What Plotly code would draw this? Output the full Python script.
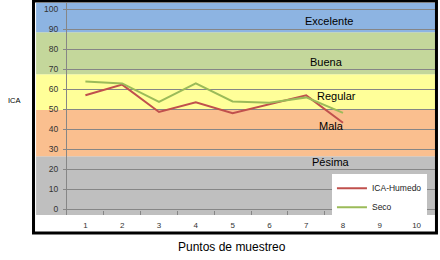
import plotly.graph_objects as go

categories = ["1", "2", "3", "4", "5", "6", "7", "8", "9", "10"]
ica_humedo = [57.1, 62.4, 48.7, 53.5, 48.1, 52.5, 57.0, 43.3]
seco = [63.9, 63.0, 53.8, 63.0, 54.0, 53.3, 56.0, 48.3]

band_names = ["Pésima", "Mala", "Regular", "Buena", "Excelente"]
band_bounds = [-2.8, 26.6, 49.7, 67.6, 88.6, 103.2]
band_colors = ["#BFBFBF", "#FABF8F", "#FFFF99", "#C4D79B", "#8DB4E2"]
band_label_y = [23.6, 41.6, 56.6, 73.6, 94.3]
band_label_x = [0.718, 0.720, 0.732, 0.706, 0.711]

y_tick_values = [0, 10, 20, 30, 40, 50, 60, 70, 80, 90, 100]

YMIN, YMAX = band_bounds[0], band_bounds[-1]


def ypaper(v):
    return (v - YMIN) / (YMAX - YMIN)


fig = go.Figure()
fig.add_trace(go.Scatter(x=categories[:len(ica_humedo)], y=ica_humedo, mode="lines",
                         name="ICA-Humedo", line=dict(color="#C0504D", width=2)))
fig.add_trace(go.Scatter(x=categories[:len(seco)], y=seco, mode="lines",
                         name="Seco", line=dict(color="#9BBB59", width=2)))

shapes = []
for i in range(len(band_names)):
    shapes.append(dict(type="rect", xref="paper", yref="paper",
                       x0=-0.084, x1=1.0,
                       y0=ypaper(band_bounds[i]), y1=ypaper(band_bounds[i + 1]),
                       fillcolor=band_colors[i], line=dict(width=0), layer="below"))
# black frame
shapes.append(dict(type="rect", xref="paper", yref="paper",
                   x0=-0.091, x1=1.004, y0=-0.085, y1=1.009,
                   line=dict(color="black", width=3), fillcolor="rgba(0,0,0,0)",
                   layer="above"))

annotations = []
for name, yv, xv in zip(band_names, band_label_y, band_label_x):
    annotations.append(dict(text=name, xref="paper", yref="y", x=xv, y=yv,
                            showarrow=False, xanchor="center", yanchor="middle",
                            font=dict(family="Liberation Sans, Arial", size=11, color="black")))
annotations.append(dict(text="ICA", xref="paper", yref="y", x=-0.143, y=54.4,
                        showarrow=False, xanchor="center", yanchor="middle",
                        font=dict(family="Liberation Sans, Arial", size=7.5, color="black")))
annotations.append(dict(text="Puntos de muestreo", xref="paper", yref="paper",
                        x=0.448, y=-0.153, showarrow=False, xanchor="center", yanchor="middle",
                        font=dict(family="Liberation Sans, Arial", size=12, color="black")))

fig.update_layout(
    width=440, height=260,
    margin=dict(l=67, r=5, t=3, b=45),
    paper_bgcolor="white", plot_bgcolor="rgba(0,0,0,0)",
    shapes=shapes, annotations=annotations,
    showlegend=True,
    legend=dict(x=0.72, y=0.195, xanchor="left", yanchor="top",
                bgcolor="white", borderwidth=0,
                font=dict(family="Liberation Sans, Arial", size=8.5, color="#222"),
                itemwidth=30, tracegroupgap=0),
    xaxis=dict(type="category", categoryorder="array", categoryarray=categories,
               range=[-0.5, 9.5], tickson="boundaries", ticks="inside", ticklen=4,
               tickcolor="#868686", showgrid=False, showline=False, zeroline=False,
               tickfont=dict(family="Liberation Sans, Arial", size=8, color="#333"),
               ticklabelstandoff=4),
    yaxis=dict(range=[YMIN, YMAX], tickvals=y_tick_values, showgrid=True,
               gridcolor="#868686", gridwidth=1, ticks="outside", ticklen=3,
               tickcolor="#868686", showline=True, linecolor="#868686", linewidth=1,
               zeroline=False,
               tickfont=dict(family="Liberation Sans, Arial", size=8.5, color="#333"),
               ticklabelstandoff=3),
)

fig.write_html("out.html",
               config={"displayModeBar": False},
               post_script="document.body.style.margin='0';document.body.style.padding='0';")
